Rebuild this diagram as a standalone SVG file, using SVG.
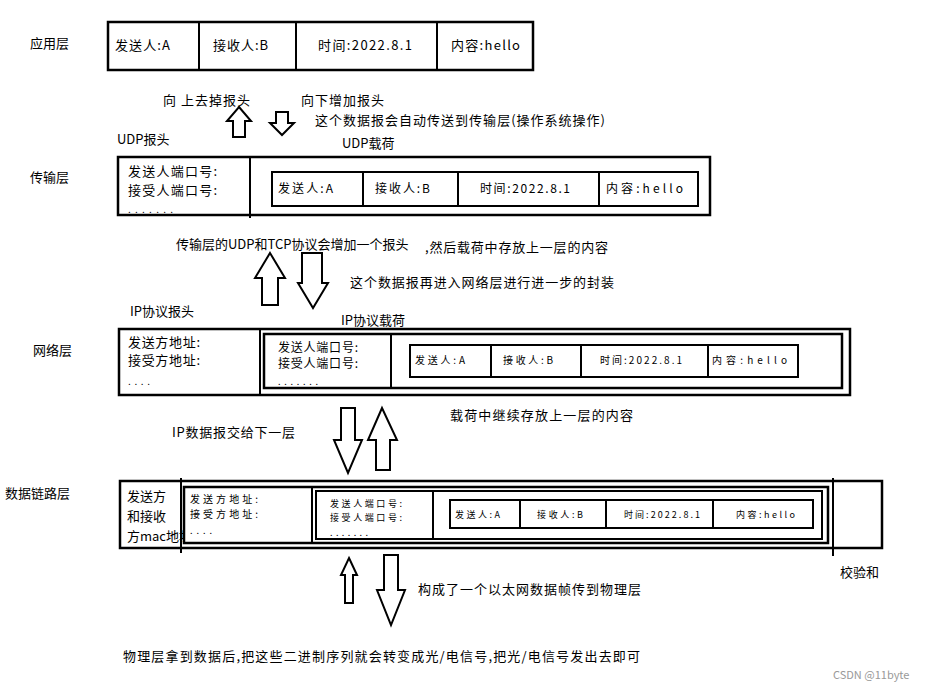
<svg xmlns="http://www.w3.org/2000/svg" width="932" height="690" viewBox="0 0 932 690">
<style>
text{font-family:"Noto Sans CJK SC","Noto Sans",sans-serif;fill:#000}
.t{font-size:13px}
.s{font-size:12px}
.xs{font-size:10px}
.xxs{font-size:9px}
.box{fill:#fff;stroke:#000;stroke-width:2.5}
.box2{fill:#fff;stroke:#000;stroke-width:2}
.ln{stroke:#000;stroke-width:2;fill:none}
.arr{fill:#fff;stroke:#000;stroke-width:2;stroke-linejoin:miter}
</style>
<defs>
<clipPath id="macclip"><rect x="120" y="520" width="63" height="30"/></clipPath>
</defs>
<rect width="932" height="690" fill="#fff"/>

<g id="app">
<text class="t" x="30" y="48">应用层</text>
<rect class="box" x="108" y="22" width="425" height="48"/>
<line class="ln" x1="199" y1="22" x2="199" y2="70"/>
<line class="ln" x1="296" y1="22" x2="296" y2="70"/>
<line class="ln" x1="437" y1="22" x2="437" y2="70"/>
<text class="t" x="115" y="50" textLength="55" lengthAdjust="spacing">发送人:A</text>
<text class="t" x="213" y="50" textLength="55" lengthAdjust="spacing">接收人:B</text>
<text class="t" x="318" y="50" textLength="94" lengthAdjust="spacing">时间:2022.8.1</text>
<text class="t" x="451" y="50" textLength="69" lengthAdjust="spacing">内容:hello</text>
</g>

<g id="labels1">
<text class="t" x="163" y="105" textLength="87" lengthAdjust="spacing">向 上去掉报头</text>
<text class="t" x="301" y="105" textLength="83" lengthAdjust="spacing">向下增加报头</text>
<text class="t" x="315" y="125" textLength="290" lengthAdjust="spacing">这个数据报会自动传送到传输层(操作系统操作)</text>
<text class="t" x="117" y="144">UDP报头</text>
<text class="t" x="342" y="148">UDP载荷</text>
</g>

<g id="transport">
<text class="t" x="30" y="182">传输层</text>
<rect class="box" x="118" y="157" width="592" height="58"/>
<line class="ln" x1="250" y1="157" x2="250" y2="218"/>
<text class="t" x="128" y="176" textLength="89" lengthAdjust="spacing">发送人端口号:</text>
<text class="t" x="128" y="195" textLength="89" lengthAdjust="spacing">接受人端口号:</text>
<text class="xs" x="128" y="213" textLength="45" lengthAdjust="spacing">.......</text>
<rect class="box2" x="272" y="172" width="426" height="34"/>
<line class="ln" x1="363" y1="172" x2="363" y2="206"/>
<line class="ln" x1="458" y1="172" x2="458" y2="206"/>
<line class="ln" x1="599" y1="172" x2="599" y2="206"/>
<text class="s" x="278" y="193" textLength="55" lengthAdjust="spacing">发送人:A</text>
<text class="s" x="375" y="193" textLength="55" lengthAdjust="spacing">接收人:B</text>
<text class="s" x="480" y="193" textLength="90" lengthAdjust="spacing">时间:2022.8.1</text>
<text class="s" x="606" y="193" textLength="77" lengthAdjust="spacing">内容:hello</text>
</g>

<g id="labels2">
<text class="t" x="176" y="249">传输层的UDP和TCP协议会增加一个报头</text>
<text class="t" x="425" y="252" textLength="183" lengthAdjust="spacing">,然后载荷中存放上一层的内容</text>
<text class="t" x="350" y="287" textLength="264" lengthAdjust="spacing">这个数据报再进入网络层进行进一步的封装</text>
<text class="t" x="130" y="316">IP协议报头</text>
<text class="t" x="341" y="325">IP协议载荷</text>
</g>

<g id="network">
<text class="t" x="33" y="355">网络层</text>
<rect class="box" x="119" y="329" width="731" height="66"/>
<line class="ln" x1="260" y1="329" x2="260" y2="395"/>
<text class="t" x="128" y="347" textLength="72" lengthAdjust="spacing">发送方地址:</text>
<text class="t" x="128" y="365" textLength="72" lengthAdjust="spacing">接受方地址:</text>
<text class="xs" x="128" y="385" textLength="22" lengthAdjust="spacing">....</text>
<rect class="box" x="264" y="334" width="578" height="54"/>
<line class="ln" x1="391" y1="334" x2="391" y2="388"/>
<text class="s" x="278" y="352" textLength="80" lengthAdjust="spacing">发送人端口号:</text>
<text class="s" x="278" y="368" textLength="80" lengthAdjust="spacing">接受人端口号:</text>
<text class="xxs" x="278" y="385" textLength="40" lengthAdjust="spacing">.......</text>
<rect class="box2" x="410" y="345" width="388" height="32"/>
<line class="ln" x1="491" y1="345" x2="491" y2="377"/>
<line class="ln" x1="581" y1="345" x2="581" y2="377"/>
<line class="ln" x1="708" y1="345" x2="708" y2="377"/>
<text class="xs" x="415" y="364" textLength="50" lengthAdjust="spacing">发送人:A</text>
<text class="xs" x="503" y="364" textLength="50" lengthAdjust="spacing">接收人:B</text>
<text class="xs" x="600" y="364" textLength="82" lengthAdjust="spacing">时间:2022.8.1</text>
<text class="xs" x="712" y="364" textLength="75" lengthAdjust="spacing">内容:hello</text>
</g>

<g id="labels3">
<text class="t" x="172" y="437" textLength="123" lengthAdjust="spacing">IP数据报交给下一层</text>
<text class="t" x="450" y="420" textLength="183" lengthAdjust="spacing">载荷中继续存放上一层的内容</text>
</g>

<g id="datalink">
<text class="t" x="5" y="498">数据链路层</text>
<rect class="box" x="120" y="481" width="762" height="67"/>
<line class="ln" x1="181" y1="478" x2="181" y2="553"/>
<line class="ln" x1="833" y1="478" x2="833" y2="556"/>
<text class="t" x="127" y="501">发送方</text>
<text class="t" x="127" y="521">和接收</text>
<text class="t" x="127" y="541" clip-path="url(#macclip)">方mac地址</text>
<rect class="box" x="184" y="487" width="644" height="56"/>
<line class="ln" x1="312" y1="487" x2="312" y2="543"/>
<text class="xs" x="190" y="503" textLength="68" lengthAdjust="spacing">发送方地址:</text>
<text class="xs" x="190" y="518" textLength="68" lengthAdjust="spacing">接受方地址:</text>
<text class="xxs" x="190" y="534" textLength="22" lengthAdjust="spacing">....</text>
<rect class="box2" x="316" y="491" width="506" height="48"/>
<line class="ln" x1="433" y1="491" x2="433" y2="539"/>
<text class="xxs" x="330" y="507" textLength="72" lengthAdjust="spacing">发送人端口号:</text>
<text class="xxs" x="330" y="521" textLength="72" lengthAdjust="spacing">接受人端口号:</text>
<text class="xxs" x="330" y="536" textLength="38" lengthAdjust="spacing">.......</text>
<rect class="box2" x="450" y="500" width="363" height="28"/>
<line class="ln" x1="520" y1="500" x2="520" y2="528"/>
<line class="ln" x1="606" y1="500" x2="606" y2="528"/>
<line class="ln" x1="713" y1="500" x2="713" y2="528"/>
<text class="xxs" x="455" y="518" textLength="45" lengthAdjust="spacing">发送人:A</text>
<text class="xxs" x="537" y="518" textLength="46" lengthAdjust="spacing">接收人:B</text>
<text class="xxs" x="624" y="518" textLength="76" lengthAdjust="spacing">时间:2022.8.1</text>
<text class="xxs" x="736" y="518" textLength="59" lengthAdjust="spacing">内容:hello</text>
<text class="t" x="840" y="577">校验和</text>
</g>

<g id="labels4">
<text class="t" x="418" y="594" textLength="223" lengthAdjust="spacing">构成了一个以太网数据帧传到物理层</text>
<text class="t" x="123" y="661" textLength="517" lengthAdjust="spacing">物理层拿到数据后,把这些二进制序列就会转变成光/电信号,把光/电信号发出去即可</text>
<text x="833" y="679" style="font-size:11px;fill:#999">CSDN @11byte</text>
</g>

<g id="connectors">
<polygon class="arr" points="239,107 251,121 245,121 245,137 233,137 233,121 227,121"/>
<polygon class="arr" points="276,112 288,112 288,123 294,123 282,135 270,123 276,123"/>
<polygon class="arr" points="270,253 285,278 278,278 278,305 262,305 262,278 255,278"/>
<polygon class="arr" points="302,253 322,253 322,283 328,283 313,308 298,283 302,283"/>
<polygon class="arr" points="341,408 355,408 355,440 362,440 348,473 334,440 341,440"/>
<polygon class="arr" points="382,408 397,440 390,440 390,470 376,470 376,440 368,440"/>
<polygon class="arr" points="349,558 357,575 353,575 353,603 345,603 345,575 341,575"/>
<polygon class="arr" points="384,555 398,555 398,590 405,590 391,625 377,590 384,590"/>
</g>
</svg>
